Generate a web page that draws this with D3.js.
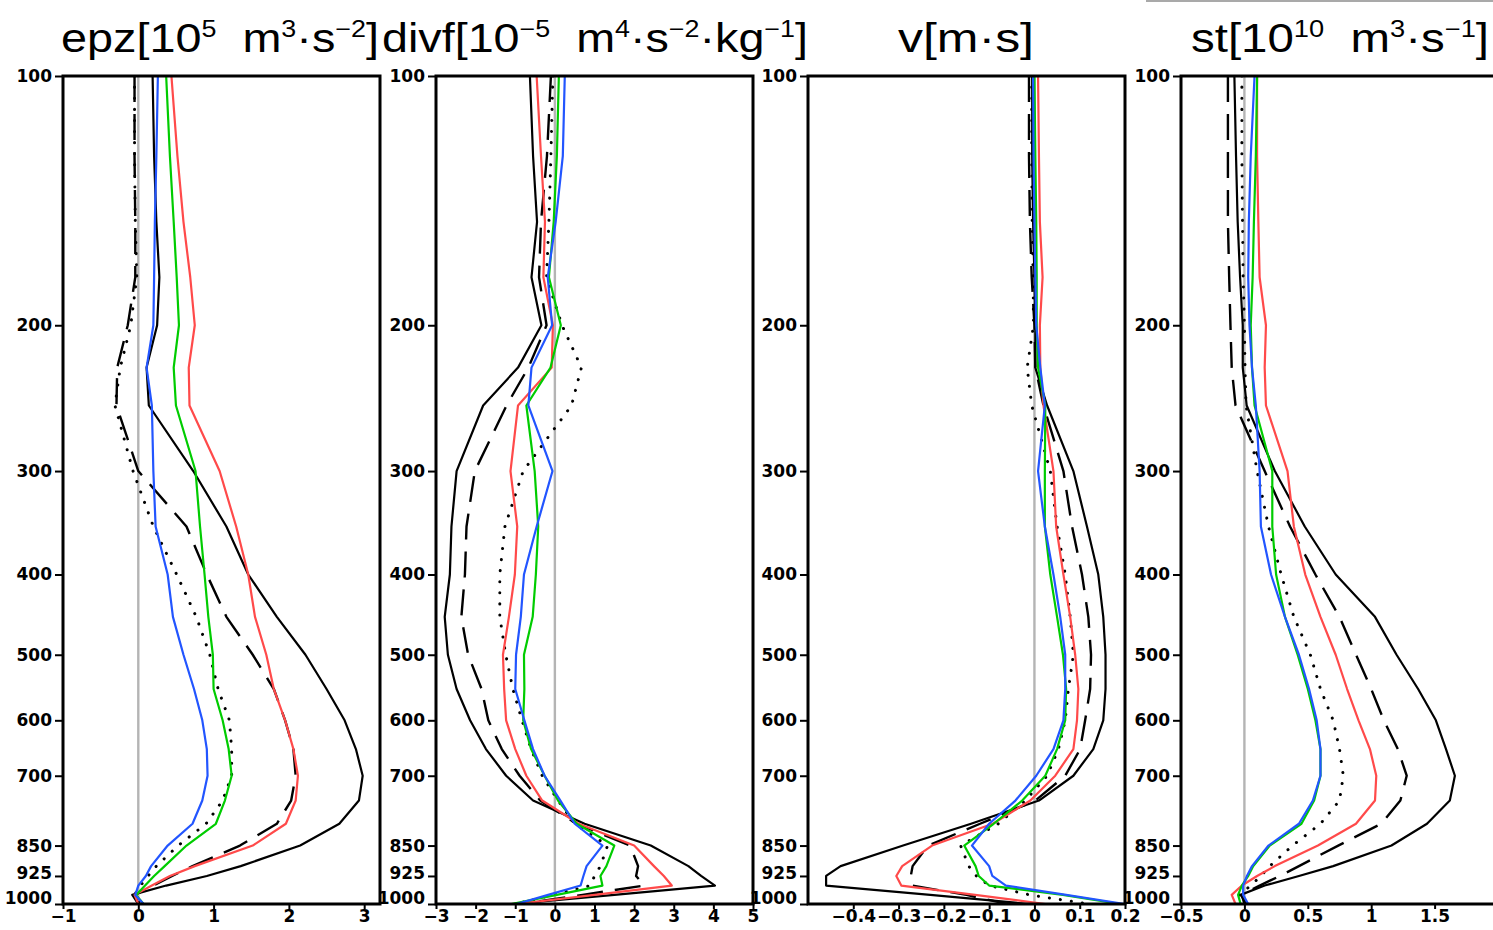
<!DOCTYPE html>
<html>
<head>
<meta charset="utf-8">
<script src="https://cdn.jsdelivr.net/npm/d3@7"></script>
<style>
  html, body { margin: 0; padding: 0; background: #fff; overflow: hidden; }
  svg { display: block; }
</style>
</head>
<body>
<script>
// Pressure levels (hPa) shared by every profile
const levels = [100,125,150,175,200,225,250,300,350,400,450,500,550,600,650,700,750,800,850,900,925,950,975,1000];
const pressureTicks = [100,200,300,400,500,600,700,850,925,1000];

// epz [1e5 m3 s-2]
const epzSolid = [0.19,0.21,0.24,0.28,0.25,0.11,0.14,0.73,1.17,1.46,1.84,2.22,2.5,2.74,2.89,2.98,2.93,2.67,2.15,1.36,0.91,0.37,-0.08,0.0];
const epzDash  = [-0.05,-0.05,-0.04,-0.04,-0.14,-0.28,-0.29,0.0,0.64,0.91,1.17,1.52,1.8,1.95,2.06,2.09,2.03,1.84,1.35,0.72,0.45,0.2,-0.05,0.0];
const epzDot   = [-0.05,-0.05,-0.04,-0.02,-0.1,-0.24,-0.31,-0.07,0.2,0.51,0.77,0.95,1.06,1.21,1.24,1.24,1.12,0.9,0.53,0.24,0.13,0.03,-0.05,0.02];
const epzRed   = [0.44,0.52,0.6,0.69,0.75,0.67,0.68,1.08,1.3,1.46,1.55,1.7,1.8,1.95,2.06,2.12,2.09,1.96,1.52,0.75,0.42,0.18,-0.05,0.0];
const epzGreen = [0.37,0.42,0.47,0.51,0.54,0.47,0.5,0.76,0.82,0.88,0.93,0.99,1.0,1.12,1.2,1.24,1.15,1.03,0.64,0.35,0.21,0.09,-0.03,0.07];
const epzBlue  = [0.26,0.24,0.22,0.21,0.2,0.11,0.18,0.2,0.23,0.39,0.46,0.6,0.74,0.85,0.91,0.92,0.85,0.72,0.39,0.17,0.1,0.0,-0.04,0.07];

// divf [1e-5 m4 s-2 kg-1]
const divfSolid = [-0.63,-0.55,-0.45,-0.59,-0.34,-0.93,-1.81,-2.48,-2.61,-2.65,-2.78,-2.7,-2.48,-2.14,-1.74,-1.23,-0.55,0.75,2.42,3.37,3.69,4.04,1.5,-1.05];
const divfDash  = [-0.1,-0.2,-0.35,-0.4,-0.21,-0.67,-1.22,-2.02,-2.23,-2.27,-2.36,-2.19,-1.85,-1.68,-1.34,-0.89,-0.37,0.55,1.9,2.1,2.05,2.25,0.7,-0.9];
const divfDot   = [-0.05,-0.1,-0.15,-0.21,0.18,0.67,0.42,-0.8,-1.26,-1.39,-1.39,-1.24,-1.06,-0.83,-0.6,-0.32,0.08,0.5,1.33,1.15,1.0,0.9,-0.05,-1.0];
const divfRed   = [-0.46,-0.35,-0.25,-0.29,-0.05,-0.08,-0.93,-1.12,-0.95,-1.01,-1.16,-1.31,-1.28,-1.23,-1.0,-0.72,-0.32,0.6,2.0,2.5,2.75,2.95,1.0,-0.97];
const divfGreen = [0.1,0.05,-0.03,-0.15,0.15,-0.11,-0.72,-0.51,-0.42,-0.48,-0.56,-0.78,-0.77,-0.8,-0.6,-0.26,0.08,0.55,1.5,1.3,1.15,1.2,0.05,-1.1];
const divfBlue  = [0.25,0.2,0.02,-0.18,-0.07,-0.59,-0.67,-0.06,-0.46,-0.78,-0.86,-0.98,-1.0,-0.77,-0.55,-0.26,0.14,0.5,1.2,0.8,0.72,0.65,-0.17,-0.97];

// v [m s]
const vSolid = [-0.005,-0.005,-0.003,0.0,0.002,0.002,0.028,0.086,0.116,0.141,0.152,0.157,0.157,0.152,0.13,0.086,0.01,-0.14,-0.29,-0.428,-0.46,-0.46,-0.23,-0.01];
const vDash  = [-0.012,-0.012,-0.01,-0.006,0.0,0.002,0.02,0.064,0.083,0.105,0.119,0.125,0.123,0.112,0.101,0.068,0.002,-0.12,-0.235,-0.269,-0.273,-0.27,-0.15,-0.06];
const vDot   = [-0.006,-0.006,-0.005,-0.003,-0.002,-0.016,-0.006,0.035,0.05,0.068,0.079,0.086,0.075,0.068,0.053,0.028,-0.02,-0.08,-0.163,-0.145,-0.128,-0.1,-0.01,0.12];
const vRed   = [0.008,0.01,0.012,0.018,0.012,0.013,0.02,0.042,0.048,0.064,0.079,0.09,0.097,0.094,0.086,0.046,-0.009,-0.092,-0.226,-0.292,-0.305,-0.294,-0.131,0.024];
const vGreen = [0.0,0.002,0.004,0.005,0.005,0.008,0.024,0.023,0.023,0.035,0.05,0.063,0.07,0.068,0.05,0.024,-0.027,-0.09,-0.155,-0.13,-0.123,-0.1,0.063,0.19];
const vBlue  = [-0.003,-0.002,0.0,0.002,0.004,0.013,0.023,0.008,0.023,0.042,0.057,0.068,0.068,0.064,0.042,0.004,-0.042,-0.1,-0.138,-0.1,-0.093,-0.063,0.07,0.2];

// st [1e10 m3 s-1]
const stSolid = [-0.079,-0.066,-0.053,-0.034,-0.013,-0.013,0.018,0.24,0.476,0.72,1.03,1.2,1.37,1.51,1.59,1.66,1.62,1.44,1.16,0.7,0.43,0.16,-0.03,0.02];
const stDash  = [-0.13,-0.13,-0.13,-0.12,-0.11,-0.1,-0.07,0.16,0.36,0.56,0.75,0.88,1.0,1.1,1.21,1.28,1.23,1.08,0.74,0.43,0.28,0.12,-0.02,0.0];
const stDot   = [-0.02,-0.02,-0.015,-0.01,0.0,0.005,0.013,0.1,0.19,0.29,0.39,0.52,0.6,0.7,0.75,0.78,0.75,0.6,0.38,0.2,0.13,0.05,-0.04,0.0];
const stRed   = [0.1,0.1,0.11,0.12,0.17,0.16,0.17,0.34,0.39,0.48,0.6,0.72,0.81,0.9,0.99,1.04,1.03,0.88,0.58,0.24,0.1,-0.02,-0.1,-0.07];
const stGreen = [0.1,0.09,0.075,0.065,0.05,0.06,0.08,0.22,0.22,0.25,0.32,0.42,0.5,0.56,0.6,0.6,0.55,0.45,0.2,0.07,0.03,-0.02,-0.05,-0.03];
const stBlue  = [0.08,0.05,0.035,0.03,0.04,0.06,0.09,0.12,0.13,0.21,0.32,0.43,0.51,0.57,0.6,0.6,0.54,0.43,0.19,0.06,0.02,-0.01,-0.01,0.03];

// x-axis tick values per panel
const epzTicks  = [-1,0,1,2,3];
const divfTicks = [-3,-2,-1,0,1,2,3,4,5];
const vTicks    = [-0.4,-0.3,-0.2,-0.1,0,0.1,0.2];
const stTicks   = [-0.5,0,0.5,1,1.5];

// Line styles: solid, long dash, dotted, then red / green / blue solid
const lineStyles = [
  { color: "#000000", width: 2.2, dash: null, cap: "butt" },
  { color: "#000000", width: 2.4, dash: "26,12", cap: "butt" },
  { color: "#000000", width: 3.0, dash: "0.1,11", cap: "round" },
  { color: "#ff4a4a", width: 2.2, dash: null, cap: "butt" },
  { color: "#00cc00", width: 2.2, dash: null, cap: "butt" },
  { color: "#2255ff", width: 2.2, dash: null, cap: "butt" }
];

const W = 1493, H = 930;
const plotTop = 76, plotBottom = 904, plotWidth = 317;

const svg = d3.select("body").append("svg")
  .attr("width", W).attr("height", H)
  .attr("viewBox", `0 0 ${W} ${H}`);
svg.append("rect").attr("width", W).attr("height", H).attr("fill", "#fff");

const y = d3.scaleLog().domain([100, 1000]).range([plotTop, plotBottom]);

const panels = [
  { left: 63,   domain: [-1, 3.21],  ticks: epzTicks,  series: [epzSolid, epzDash, epzDot, epzRed, epzGreen, epzBlue],
    title: [["epz[10"], ["5", "sup"], ["  m"], ["3", "sup"], ["·s"], ["−2", "sup"], ["]"]], tx: 61, tw: 318 },
  { left: 436,  domain: [-3, 5],     ticks: divfTicks, series: [divfSolid, divfDash, divfDot, divfRed, divfGreen, divfBlue],
    title: [["divf[10"], ["−5", "sup"], ["  m"], ["4", "sup"], ["·s"], ["−2", "sup"], ["·kg"], ["−1", "sup"], ["]"]], tx: 382, tw: 426 },
  { left: 808,  domain: [-0.5, 0.2], ticks: vTicks,    series: [vSolid, vDash, vDot, vRed, vGreen, vBlue],
    title: [["v[m·s]"]], tx: 898, tw: 136 },
  { left: 1181, domain: [-0.5, 2.0], ticks: stTicks,   series: [stSolid, stDash, stDot, stRed, stGreen, stBlue],
    title: [["st[10"], ["10", "sup"], ["  m"], ["3", "sup"], ["·s"], ["−1", "sup"], ["]"]], tx: 1191, tw: 298 }
];

const fmt = d => d3.format("~g")(d);
// the two lowest pressure labels sit a little higher so they clear the x labels
const labelLift = { 925: -3, 1000: -6 };

panels.forEach((p, i) => {
  const x = d3.scaleLinear().domain(p.domain).range([p.left, p.left + plotWidth]);
  const g = svg.append("g");

  const clipId = "clip" + i;
  svg.append("defs").append("clipPath").attr("id", clipId)
    .append("rect")
    .attr("x", p.left).attr("y", plotTop)
    .attr("width", plotWidth).attr("height", plotBottom - plotTop);

  const plot = g.append("g").attr("clip-path", `url(#${clipId})`);

  // zero reference line
  plot.append("line")
    .attr("x1", x(0)).attr("x2", x(0))
    .attr("y1", plotTop).attr("y2", plotBottom)
    .attr("stroke", "#b4b4b4").attr("stroke-width", 2.4);

  const line = d3.line()
    .x(d => x(d[1]))
    .y(d => y(d[0]));

  p.series.forEach((vals, k) => {
    const st = lineStyles[k];
    plot.append("path")
      .datum(levels.map((lev, j) => [lev, vals[j]]))
      .attr("d", line)
      .attr("fill", "none")
      .attr("stroke", st.color)
      .attr("stroke-width", st.width)
      .attr("stroke-linejoin", "round")
      .attr("stroke-linecap", st.cap)
      .attr("stroke-dasharray", st.dash);
  });

  // frame
  g.append("rect")
    .attr("x", p.left).attr("y", plotTop)
    .attr("width", plotWidth).attr("height", plotBottom - plotTop)
    .attr("fill", "none").attr("stroke", "#000").attr("stroke-width", 3);

  // left pressure axis
  const ay = g.append("g")
    .attr("transform", `translate(${p.left},0)`)
    .call(d3.axisLeft(y).tickValues(pressureTicks).tickFormat(d3.format("d"))
      .tickSize(8).tickSizeOuter(0).tickPadding(3));
  ay.select(".domain").remove();
  ay.selectAll(".tick line").attr("stroke", "#000").attr("stroke-width", 2);
  ay.selectAll(".tick text")
    .attr("font-family", "DejaVu Sans, sans-serif")
    .attr("font-weight", "bold")
    .attr("font-size", 17)
    .attr("fill", "#000")
    .attr("y", d => labelLift[d] || 0);

  // bottom axis
  const ax = g.append("g")
    .attr("transform", `translate(0,${plotBottom})`)
    .call(d3.axisBottom(x).tickValues(p.ticks).tickFormat(fmt)
      .tickSize(5).tickSizeOuter(0).tickPadding(1));
  ax.select(".domain").remove();
  ax.selectAll(".tick line").attr("stroke", "#000").attr("stroke-width", 2);
  ax.selectAll(".tick text")
    .attr("font-family", "DejaVu Sans, sans-serif")
    .attr("font-weight", "bold")
    .attr("font-size", 17)
    .attr("fill", "#000");

  // title with superscripts
  const t = svg.append("text")
    .attr("x", p.tx).attr("y", 52)
    .attr("font-family", "Liberation Sans, Arial, sans-serif")
    .attr("font-size", 40)
    .attr("fill", "#000")
    .attr("textLength", p.tw)
    .attr("lengthAdjust", "spacingAndGlyphs")
    .style("white-space", "pre");
  let raised = false;
  p.title.forEach(([txt, kind]) => {
    const ts = t.append("tspan").text(txt);
    if (kind === "sup") {
      ts.attr("font-size", 23).attr("dy", raised ? 0 : -15);
      raised = true;
    } else {
      ts.attr("dy", raised ? 15 : 0);
      raised = false;
    }
  });
});

// thin rule along the top right edge
svg.append("line")
  .attr("x1", 1146).attr("x2", W)
  .attr("y1", 1).attr("y2", 1)
  .attr("stroke", "#8c8c8c").attr("stroke-width", 1.5);
</script>
</body>
</html>
